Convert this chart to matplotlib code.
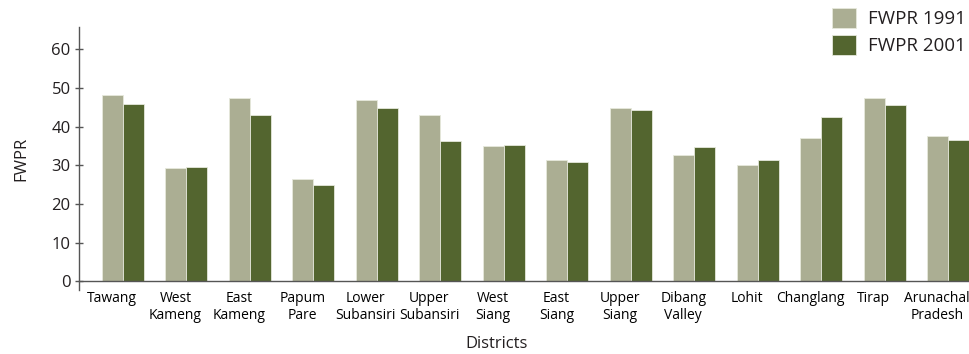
import numpy as np
import matplotlib
matplotlib.use("Agg")
import matplotlib.pyplot as plt

districts = ["Tawang", "West\nKameng", "East\nKameng", "Papum\nPare", "Lower\nSubansiri",
             "Upper\nSubansiri", "West\nSiang", "East\nSiang", "Upper\nSiang", "Dibang\nValley",
             "Lohit", "Changlang", "Tirap", "Arunachal\nPradesh"]
fwpr_1991 = [48.2, 29.2, 47.4, 26.5, 46.9, 43.0, 35.1, 31.5, 44.8, 32.6, 30.2, 37.1, 47.3, 37.6]
fwpr_2001 = [45.9, 29.5, 42.9, 24.9, 44.9, 36.3, 35.3, 31.0, 44.3, 34.8, 31.3, 42.4, 45.6, 36.6]

plt.rcParams['font.family'] = ['Open Sans', 'DejaVu Sans']
text_color = '#231f20'
light = '#abae93'
dark = '#53652f'

fig = plt.figure(figsize=(9.69, 3.54), dpi=100)
ax = fig.add_axes([0.0815, 0.181, 0.9185, 0.743])

x = np.arange(len(districts))
w = 0.33
ax.bar(x - w / 2, fwpr_1991, width=w, color=light, edgecolor='#e6e8dc', linewidth=0.6,
       label='FWPR 1991')
ax.bar(x + w / 2, fwpr_2001, width=w, color=dark, edgecolor='#e6e8dc', linewidth=0.6,
       label='FWPR 2001')

ax.set_xlim(-0.69, 13.33)
ax.set_ylim(-2.2, 65.8)
ax.set_yticks([0, 10, 20, 30, 40, 50, 60])
# in the original the category labels sit slightly left of their bar pairs
ax.set_xticks(x - 0.17)
ax.set_xticklabels(districts, fontsize=9.2, color=text_color, linespacing=1.3)
ax.tick_params(axis='x', length=0, pad=7)
ax.tick_params(axis='y', direction='inout', length=6, width=1, color='#555555',
               labelsize=12, labelcolor=text_color, pad=3)

for s in ['top', 'right']:
    ax.spines[s].set_visible(False)
ax.spines['bottom'].set_position(('data', 0))
ax.spines['bottom'].set_color('#555555')
ax.spines['left'].set_color('#555555')
ax.spines['bottom'].set_linewidth(1)
ax.spines['left'].set_linewidth(1)

ax.set_ylabel('FWPR', fontsize=12, color=text_color, labelpad=16)
fig.text(0.512, 0.027, 'Districts', fontsize=12, color=text_color, ha='center', va='center')

fig.legend(loc='upper left', bbox_to_anchor=(0.851, 1.0), frameon=False, fontsize=13.5,
           handlelength=1.3, handleheight=1.3, handletextpad=0.6, labelspacing=0.35,
           borderaxespad=0.0, borderpad=0.4, labelcolor=text_color)

fig.savefig('out.png', dpi=100)
